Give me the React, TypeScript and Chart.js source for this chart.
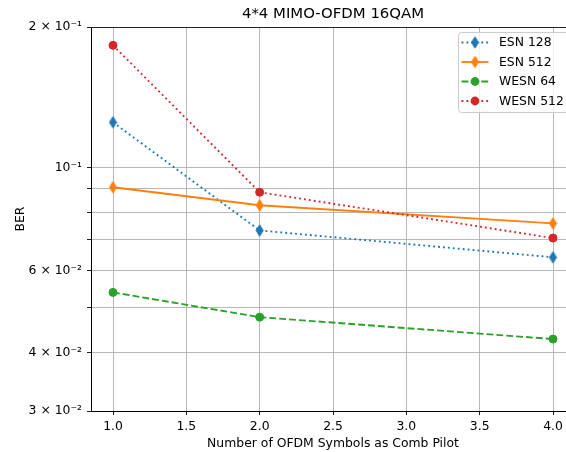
import React, { useEffect, useRef } from "react";
import { Chart, registerables } from "chart.js";
Chart.register(...registerables);

const xValues = [1, 2, 4];
const esn128 = [0.1249, 0.0732, 0.0641];
const esn512 = [0.0906, 0.0829, 0.0758];
const wesn64 = [0.0539, 0.0477, 0.0428];
const wesn512 = [0.1827, 0.0884, 0.0705];
const seriesNames = ["ESN 128", "ESN 512", "WESN 64", "WESN 512"];
const xTicks = [1, 1.5, 2, 2.5, 3, 3.5, 4];
const yTicks = [0.03, 0.04, 0.05, 0.06, 0.07, 0.08, 0.09, 0.1, 0.2];
const yLabelValues = [0.03, 0.04, 0.06, 0.1, 0.2];
const yLabelTexts = ["3 × 10⁻²", "4 × 10⁻²", "6 × 10⁻²", "10⁻¹", "2 × 10⁻¹"];
const titleText = "4*4 MIMO-OFDM 16QAM";
const xTitle = "Number of OFDM Symbols as Comb Pilot";
const yTitle = "BER";

const FONT = "'DejaVu Sans', sans-serif";
const FS = 12.4;
const BLUE = "#1f77b4";
const ORANGE = "#ff7f0e";
const GREEN = "#2ca02c";
const RED = "#d62728";
const LW = 1.87;
const DOT = [1.87, 3.08];
const DASH = [6.9, 3.0];

function makeDiamond(color: string): HTMLCanvasElement {
  const c = document.createElement("canvas");
  c.width = 9;
  c.height = 13;
  const g = c.getContext("2d")!;
  g.fillStyle = color;
  g.strokeStyle = color;
  g.lineWidth = 1;
  g.beginPath();
  g.moveTo(4.5, 0.8);
  g.lineTo(8, 6.5);
  g.lineTo(4.5, 12.2);
  g.lineTo(1, 6.5);
  g.closePath();
  g.fill();
  g.stroke();
  return c;
}

export default function App() {
  const ref = useRef<HTMLCanvasElement | null>(null);
  useEffect(() => {
    const canvas = ref.current!;
    const blueD = makeDiamond(BLUE);
    const orangeD = makeDiamond(ORANGE);
    const styles: any[] = [
      { color: BLUE, dash: DOT, marker: blueD },
      { color: ORANGE, dash: [], marker: orangeD },
      { color: GREEN, dash: DASH, marker: "circle" },
      { color: RED, dash: DOT, marker: "circle" },
    ];
    const seriesData = [esn128, esn512, wesn64, wesn512];
    const datasets = seriesData.map((vals, i) => ({
      label: seriesNames[i],
      data: xValues.map((x, j) => ({ x, y: vals[j] })),
      borderColor: styles[i].color,
      backgroundColor: styles[i].color,
      borderWidth: LW,
      borderDash: styles[i].dash,
      borderCapStyle: "butt",
      pointStyle: styles[i].marker,
      pointRadius: styles[i].marker === "circle" ? 4 : 5,
      pointBorderWidth: 1,
      pointHoverRadius: 4,
      fill: false,
      tension: 0,
      order: 4 - i,
    }));

    const overlay = {
      id: "overlay",
      afterDraw(chart: any) {
        const ctx = chart.ctx;
        const a = chart.chartArea;
        ctx.save();
        // top spine
        ctx.strokeStyle = "#222";
        ctx.lineWidth = 1;
        ctx.beginPath();
        ctx.moveTo(a.left, Math.round(a.top) + 0.5);
        ctx.lineTo(a.right, Math.round(a.top) + 0.5);
        ctx.stroke();
        // title
        ctx.fillStyle = "#000";
        ctx.font = `14.9px ${FONT}`;
        ctx.textAlign = "center";
        ctx.textBaseline = "middle";
        ctx.fillText(titleText, (a.left + a.right) / 2, a.top - 13);
        // legend
        const bx = 458.5, by = 32.5, bw = 112, bh = 80, r = 3;
        ctx.beginPath();
        ctx.moveTo(bx + r, by);
        ctx.lineTo(bx + bw - r, by);
        ctx.quadraticCurveTo(bx + bw, by, bx + bw, by + r);
        ctx.lineTo(bx + bw, by + bh - r);
        ctx.quadraticCurveTo(bx + bw, by + bh, bx + bw - r, by + bh);
        ctx.lineTo(bx + r, by + bh);
        ctx.quadraticCurveTo(bx, by + bh, bx, by + bh - r);
        ctx.lineTo(bx, by + r);
        ctx.quadraticCurveTo(bx, by, bx + r, by);
        ctx.closePath();
        ctx.fillStyle = "rgba(255,255,255,0.8)";
        ctx.fill();
        ctx.strokeStyle = "#cccccc";
        ctx.lineWidth = 1;
        ctx.stroke();
        const rowY = [42.5, 62, 81.5, 101];
        for (let i = 0; i < 4; i++) {
          const y = rowY[i];
          const st = styles[i];
          ctx.strokeStyle = st.color;
          ctx.lineWidth = LW;
          ctx.setLineDash(st.dash);
          ctx.lineCap = "butt";
          ctx.beginPath();
          ctx.moveTo(461.5, y);
          ctx.lineTo(488.5, y);
          ctx.stroke();
          ctx.setLineDash([]);
          if (st.marker === "circle") {
            ctx.fillStyle = st.color;
            ctx.beginPath();
            ctx.arc(475, y, 4.4, 0, Math.PI * 2);
            ctx.fill();
          } else {
            ctx.drawImage(st.marker, 475 - 4.5, y - 6.5);
          }
          ctx.fillStyle = "#000";
          ctx.font = `${FS}px ${FONT}`;
          ctx.textAlign = "left";
          ctx.textBaseline = "middle";
          ctx.fillText(seriesNames[i], 499, y + 0.5);
        }
        ctx.restore();
      },
    };

    const chart = new Chart(canvas, {
      type: "line",
      data: { datasets: datasets as any },
      plugins: [overlay],
      options: {
        animation: false,
        responsive: false,
        devicePixelRatio: 1,
        layout: { padding: { left: 0, top: 27, right: 3, bottom: 0 } },
        plugins: { legend: { display: false }, title: { display: false }, tooltip: { enabled: false } },
        scales: {
          x: {
            type: "linear",
            min: 0.85,
            max: 4.15,
            bounds: "data",
            afterBuildTicks: (s: any) => {
              s.ticks = xTicks.map((v) => ({ value: v }));
            },
            afterFit: (s: any) => {
              s.height = 41;
              s.paddingLeft = 0;
              s.paddingRight = 0;
            },
            grid: { color: "#b0b0b0", lineWidth: 0.9, tickColor: "#000", tickLength: 4, drawOnChartArea: true },
            border: { color: "#000", width: 1 },
            ticks: {
              color: "#000",
              font: { family: FONT, size: FS },
              padding: 4,
              maxRotation: 0,
              autoSkip: false,
              callback: (v: any) => Number(v).toFixed(1),
            },
            title: {
              display: true,
              text: xTitle,
              color: "#000",
              font: { family: FONT, size: FS },
              padding: { top: 0, bottom: 1 },
            },
          },
          y: {
            type: "logarithmic",
            min: 0.03,
            max: 0.2,
            bounds: "data",
            afterBuildTicks: (s: any) => {
              s.ticks = yTicks.map((v) => ({ value: v }));
            },
            afterFit: (s: any) => {
              s.width = 91;
              s.paddingTop = 0;
              s.paddingBottom = 0;
            },
            grid: { color: "#b0b0b0", lineWidth: 0.9, tickColor: "#000", tickLength: 4, drawOnChartArea: true },
            border: { color: "#000", width: 1 },
            ticks: {
              color: "#000",
              font: { family: FONT, size: FS },
              padding: 5,
              autoSkip: false,
              callback: (v: any) => {
                const idx = yLabelValues.findIndex((u) => Math.abs(u - Number(v)) < 1e-9);
                return idx >= 0 ? yLabelTexts[idx] : "";
              },
            },
            title: {
              display: true,
              text: yTitle,
              color: "#000",
              font: { family: FONT, size: FS },
              padding: { top: 13, bottom: 0 },
            },
          },
        },
      } as any,
    });
    return () => chart.destroy();
  }, []);

  return (
    <div style={{ position: "fixed", left: 0, top: 0, width: 566, height: 452, overflow: "hidden", background: "#fff" }}>
      <canvas ref={ref} width={581} height={452} style={{ display: "block" }} />
    </div>
  );
}
